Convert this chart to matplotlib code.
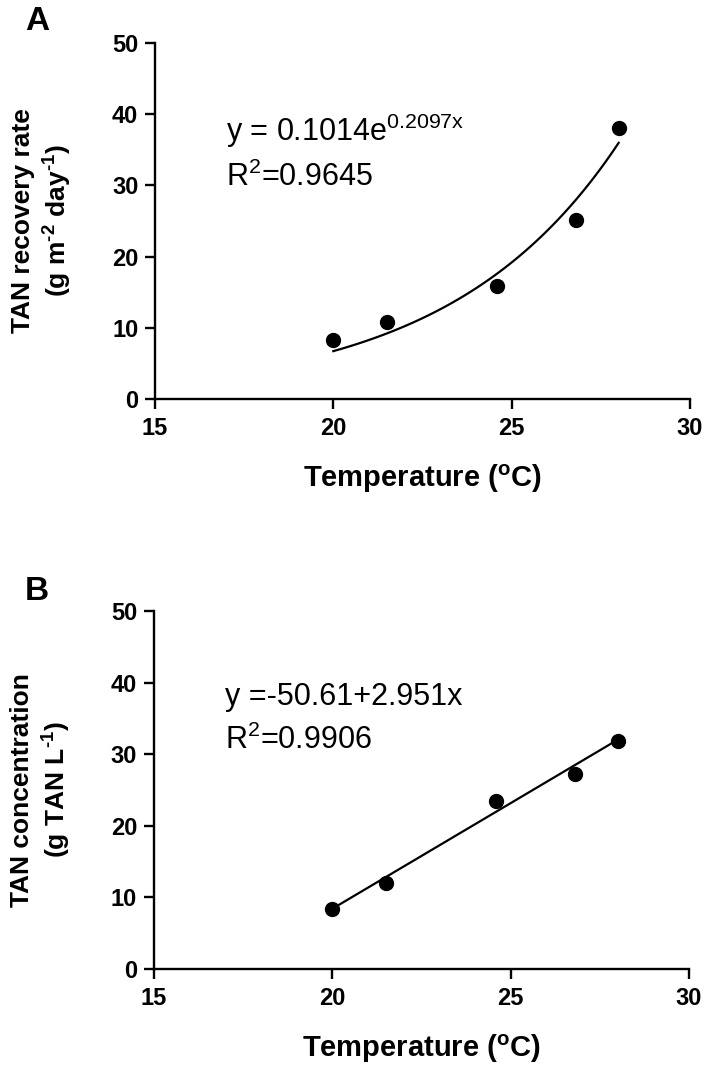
import numpy as np
import matplotlib
matplotlib.use('Agg')
import matplotlib.pyplot as plt

# 데이터
temp = [20.0, 21.5, 24.6, 26.8, 28.0]
recovery_rate = [8.3, 10.8, 15.9, 25.1, 38.1]
tan_conc = [8.4, 12.0, 23.4, 27.3, 31.9]

# 회귀식 계수
exp_a, exp_b = 0.1014, 0.2097
lin_a, lin_b = -50.61, 2.951

x_ticks = [15, 20, 25, 30]
y_ticks = [0, 10, 20, 30, 40, 50]

plt.rcParams['font.family'] = ['Liberation Sans', 'DejaVu Sans']
plt.rcParams['mathtext.fontset'] = 'custom'
plt.rcParams['mathtext.rm'] = 'Liberation Sans'
plt.rcParams['mathtext.bf'] = 'Liberation Sans:bold'
plt.rcParams['mathtext.it'] = 'Liberation Sans:italic'
plt.rcParams['axes.unicode_minus'] = False

fig = plt.figure(figsize=(7.06, 10.70), dpi=100)
ax_a = fig.add_axes([0.2195, 0.6271, 0.7578, 0.3327])
ax_b = fig.add_axes([0.2180, 0.0944, 0.7580, 0.3346])


def style_axis(ax, ylabel):
    ax.set_xlim(15, 30)
    ax.set_ylim(0, 50)
    ax.set_xticks(x_ticks)
    ax.set_yticks(y_ticks)
    for s in ['top', 'right']:
        ax.spines[s].set_visible(False)
    for s in ['left', 'bottom']:
        ax.spines[s].set_linewidth(1.7)
    ax.tick_params(axis='both', direction='out', length=7, width=1.7, labelsize=17)
    ax.tick_params(axis='x', pad=6)
    ax.tick_params(axis='y', pad=5)
    for lab in ax.get_xticklabels() + ax.get_yticklabels():
        lab.set_fontweight('bold')
    ax.set_xlabel(r'Temperature ($\mathbf{^{o}}$C)', fontsize=21, fontweight='bold', labelpad=16)
    ax.set_ylabel(ylabel, fontsize=19, fontweight='bold', labelpad=27, linespacing=1.3)


# (A) 회수율 - 지수 회귀
xs = np.linspace(temp[0], temp[-1], 100)
ax_a.plot(temp, recovery_rate, 'o', color='black', markersize=10, clip_on=False)
ax_a.plot(xs, exp_a * np.exp(exp_b * xs), color='black', linewidth=1.6)
style_axis(ax_a, 'TAN recovery rate\n' + r'(g m$\mathbf{^{‐2}}$ day$\mathbf{^{‐1}}$)')
ax_a.text(17.0, 36.2, r'y = 0.1014e$^{\mathrm{0.2097x}}$', fontsize=22)
ax_a.text(17.0, 29.9, r'R$^{2}$=0.9645', fontsize=22)

# (B) 농도 - 선형 회귀
ax_b.plot(temp, tan_conc, 'o', color='black', markersize=10, clip_on=False)
ax_b.plot(xs, lin_a + lin_b * xs, color='black', linewidth=1.6)
style_axis(ax_b, 'TAN concentration\n' + r'(g TAN L$\mathbf{^{‐1}}$)')
ax_b.text(17.0, 36.9, 'y =-50.61+2.951x', fontsize=22)
ax_b.text(17.0, 30.7, r'R$^{2}$=0.9906', fontsize=22)

# 패널 라벨
fig.text(37 / 706, 1 - 21 / 1070, 'A', fontsize=24, fontweight='bold', ha='center', va='center')
fig.text(37 / 706, 1 - 592 / 1070, 'B', fontsize=24, fontweight='bold', ha='center', va='center')

fig.savefig('out.png', dpi=100)
